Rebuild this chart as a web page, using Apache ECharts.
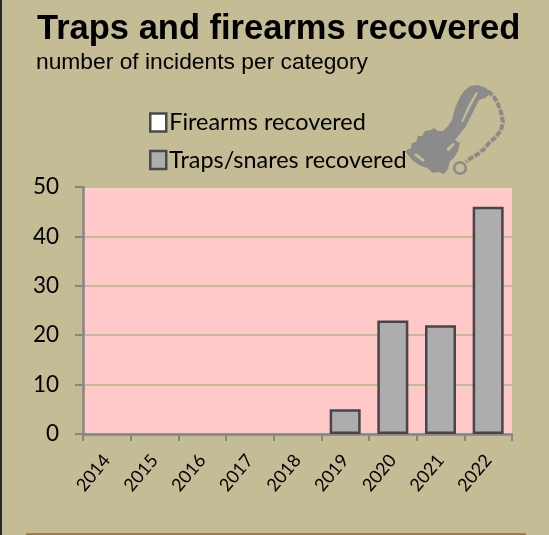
<!DOCTYPE html>
<html><head><meta charset="utf-8">
<style>html,body{margin:0;padding:0;background:#c4bc94}#c{width:549px;height:535px}</style>
<script src="https://cdn.jsdelivr.net/npm/echarts@6/dist/echarts.min.js"></script>
</head><body><div id="c"></div>
<script>
const categories = ['2014','2015','2016','2017','2018','2019','2020','2021','2022'];
const firearms = [null,null,null,null,null,null,null,null,null];
const traps = [null,null,null,null,null,5,23,22,46];
const yTicks = {min:0,max:50,interval:10};
const titleText = 'Traps and firearms recovered';
const subtitleText = 'number of incidents per category';
const trapBody = [[405,151],[411,148],[412,143],[416,142],[418,136],[422,136],[425,131],[431,130],[434,128],[438,131],[443,131],[448,126],[452,120],[455,108],[460,97],[464,91],[470,86],[478,85],[486,88],[491,93],[485,98],[479,100],[473,112],[466,126],[459,135],[455,140],[460,143],[458,151],[454,158],[450,161],[448,169],[444,174],[438,172],[433,173],[427,168],[419,165],[412,160]];
const trapHoles = [
  [[476,92],[469,104],[461,122],[463,122],[471,106],[478,93]],
  [[414,155],[423,162],[425,160],[416,153]],
  [[447,148],[447,151],[449,151],[455,144],[453,143]]
];
const chainLine = [[488,91],[494,97],[498,104],[501,112],[503,122],[501,130],[496,137],[490,142],[484,149],[478,154],[471,158],[466,162]];
const grey = '#8b8b8b', bg = '#c4bc94';
const chart = echarts.init(document.getElementById('c'));
chart.setOption({
  animation:false,
  backgroundColor:bg,
  title:[
    {text:titleText,left:32,top:7,textStyle:{fontFamily:'Liberation Sans',fontWeight:'bold',fontSize:34.5,color:'#000'}},
    {text:subtitleText,left:31,top:46,textStyle:{fontFamily:'Liberation Sans',fontWeight:'normal',fontSize:22.8,color:'#000'}}
  ],
  legend:{
    orient:'vertical',left:144,top:106,itemWidth:16,itemHeight:18,itemGap:14.5,icon:'rect',
    textStyle:{fontFamily:'Lato',fontSize:23.4,color:'#000',padding:[0,0,0,-2]},
    data:[
      {name:'Firearms recovered',itemStyle:{color:'#fff',borderColor:'#4a4a4a',borderWidth:2.5}},
      {name:'Traps/snares recovered',itemStyle:{color:'#adadad',borderColor:'#4a4a4a',borderWidth:2.5}}
    ]
  },
  grid:{left:83,right:37,top:187,bottom:101,show:true,backgroundColor:'#ffc9c9',borderWidth:0},
  xAxis:{
    type:'category',data:categories,
    axisLine:{lineStyle:{color:'#868686',width:2.5}},
    axisTick:{show:true,length:7,lineStyle:{color:'#868686',width:2}},
    axisLabel:{rotate:50,fontFamily:'Lato',fontSize:18,color:'#000',margin:23,interval:0}
  },
  yAxis:{
    type:'value',min:yTicks.min,max:yTicks.max,interval:yTicks.interval,
    axisLine:{show:true,lineStyle:{color:'#868686',width:2.5}},
    axisTick:{show:true,length:8,lineStyle:{color:'#868686',width:2}},
    axisLabel:{fontFamily:'Lato',fontSize:22.5,color:'#000',margin:24},
    splitLine:{lineStyle:{color:bg,width:2}}
  },
  series:[
    {name:'Firearms recovered',type:'bar',stack:'a',data:firearms,barWidth:31,
     itemStyle:{color:'#fff',borderColor:'#4a4a4a',borderWidth:2.5}},
    {name:'Traps/snares recovered',type:'bar',stack:'a',data:traps,barWidth:31,
     itemStyle:{color:'#adadad',borderColor:'#4a4444',borderWidth:2.5}}
  ],
  graphic:[
    {type:'rect',shape:{x:0,y:0,width:2,height:535},style:{fill:'#2a2a2a'},silent:true},
    {type:'rect',shape:{x:26,y:533,width:500,height:2},style:{fill:'#9a7f50'},silent:true},
    {type:'polygon',shape:{points:trapBody},style:{fill:grey},silent:true,z:90},
    ...trapHoles.map(h=>({type:'polygon',shape:{points:h},style:{fill:bg},silent:true,z:91})),
    {type:'polyline',shape:{points:chainLine},style:{fill:'none',stroke:grey,lineWidth:4,lineDash:[6,1.5]},silent:true,z:90},
    {type:'ring',shape:{cx:460,cy:168,r:7,r0:4.5},style:{fill:grey},silent:true,z:90}
  ]
});
</script></body></html>
